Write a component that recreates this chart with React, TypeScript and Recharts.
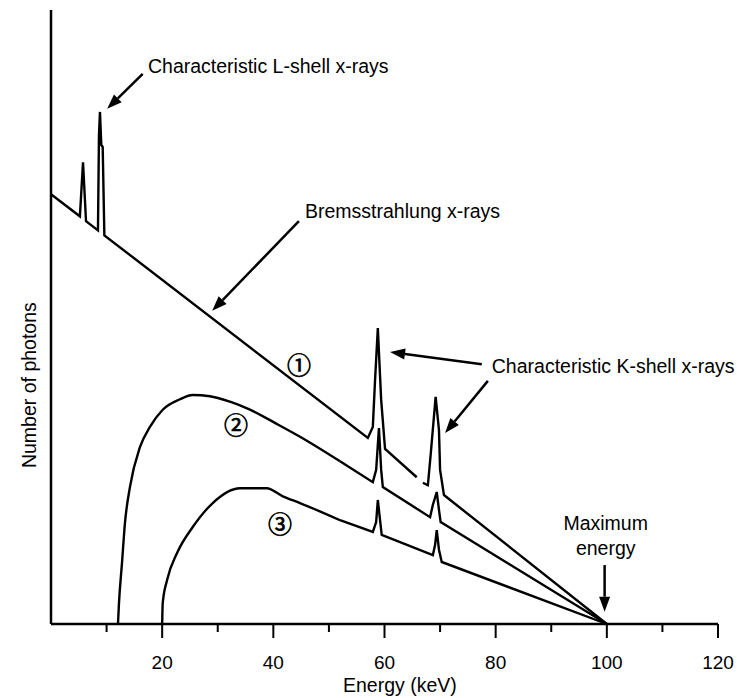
import React from 'react'
import { LineChart, Line, XAxis, YAxis, ReferenceLine, ReferenceDot } from 'recharts'

// energy in keV, photon count in relative units (0 - 100)
// curve 1: unfiltered spectrum, with L-shell and K-shell peaks
const curve1Energy = [0, 5.2, 5.76, 6.3, 8.45, 8.63, 8.81, 9.05, 9.3, 9.6, 57.0, 57.9, 58.3, 58.8, 59.4, 60.1, 65.8, 66.3, 66.9, 67.8, 68.3, 69.2, 69.8, 70.0, 70.7, 100]
const curve1Count = [70.0, 66.4, 75.2, 65.6, 64.1, 79.6, 83.4, 78.0, 77.7, 63.3, 30.3, 32.1, 39.7, 48.2, 36.5, 28.5, 23.9, null, 23.0, 22.6, 27.5, 37.0, 31.6, 25.1, 21.0, 0]

// curve 2: moderate filtration (smooth hump, then straight tail with K peaks)
const curve2HumpEnergy = [12.05, 12.23, 12.77, 13.3, 14.2, 16.0, 17.8, 20.1, 23.2, 25.5, 28.6, 32.2, 35.8, 40.6, 44.8, 52.0]
const curve2HumpCount = [0, 3.4, 9.9, 16.4, 22.3, 28.8, 32.1, 34.9, 36.6, 37.3, 37.1, 36.2, 34.9, 32.6, 30.5, 26.5]
const curve2TailEnergy = [52.0, 57.9, 58.5, 59.0, 59.4, 59.7, 68.2, 68.7, 69.4, 69.8, 70.1, 100]
const curve2TailCount = [26.5, 23.1, 25.1, 31.9, 25.1, 22.3, 17.4, 19.4, 21.5, 18.6, 16.6, 0]

// curve 3: heavy filtration
const curve3HumpEnergy = [20.0, 20.1, 20.9, 22.7, 25.5, 29.1, 34.0, 38.8, 41.7, 44.8, 52.0]
const curve3HumpCount = [0, 3.4, 7.2, 11.6, 15.8, 19.7, 22.1, 22.1, 20.8, 19.7, 16.9]
const curve3TailEnergy = [52.0, 57.9, 58.5, 58.8, 59.2, 59.5, 68.7, 69.1, 69.4, 69.8, 70.3, 100]
const curve3TailCount = [16.9, 15.0, 16.6, 20.2, 16.9, 14.5, 11.2, 12.9, 15.3, 12.1, 10.1, 0]

const energyTicks = [10, 20, 30, 40, 50, 60, 70, 80, 90, 100, 110, 120]

// annotations, in data coordinates
const arrows = [
  { from: [16.5, 89.6], to: [10.1, 83.9] },
  { from: [44.6, 65.6], to: [29.0, 51.0] },
  { from: [77.5, 42.3], to: [61.0, 44.3] },
  { from: [78.6, 39.6], to: [70.9, 31.1] },
  { from: [99.6, 9.6], to: [99.6, 2.0] },
]
const notes = [
  { x: 17.45, y: 89.7, text: 'Characteristic L-shell x-rays', anchor: 'start' },
  { x: 45.7, y: 66.1, text: 'Bremsstrahlung x-rays', anchor: 'start' },
  { x: 79.3, y: 40.9, text: 'Characteristic K-shell x-rays', anchor: 'start' },
  { x: 99.8, y: 15.3, text: 'Maximum', anchor: 'middle' },
  { x: 99.8, y: 11.2, text: 'energy', anchor: 'middle' },
]
const curveMarks = [
  { x: 44.6, y: 42.5, text: '①' },
  { x: 33.3, y: 32.7, text: '②' },
  { x: 41.2, y: 16.6, text: '③' },
]

const toRows = (es: number[], vs: (number | null)[]) => es.map((e, i) => ({ e, v: vs[i] }))
const series = [
  { d: toRows(curve1Energy, curve1Count), type: 'linear' },
  { d: toRows(curve2HumpEnergy, curve2HumpCount), type: 'monotone' },
  { d: toRows(curve2TailEnergy, curve2TailCount), type: 'linear' },
  { d: toRows(curve3HumpEnergy, curve3HumpCount), type: 'monotone' },
  { d: toRows(curve3TailEnergy, curve3TailCount), type: 'linear' },
]

const FONT = '"Liberation Sans", Arial, Helvetica, sans-serif'

function EnergyTick({ x, y, payload }: any) {
  const major = payload.value % 20 === 0
  return (
    <g>
      <line x1={x} y1={y} x2={x} y2={y + (major ? 14 : 8)} stroke="#000" strokeWidth={2} />
      {major && (
        <text x={x} y={y + 45} textAnchor="middle" fontSize={19} fontFamily={FONT} fill="#000">{payload.value}</text>
      )}
    </g>
  )
}

function Arrow(p: any) {
  const dx = p.x2 - p.x1, dy = p.y2 - p.y1
  const len = Math.hypot(dx, dy) || 1
  const ux = dx / len, uy = dy / len
  const hl = 15, hw = 5.5
  const bx = p.x2 - ux * hl, by = p.y2 - uy * hl
  return (
    <g>
      <line x1={p.x1} y1={p.y1} x2={bx} y2={by} stroke="#000" strokeWidth={2.5} />
      <polygon points={`${p.x2},${p.y2} ${bx - uy * hw},${by + ux * hw} ${bx + uy * hw},${by - ux * hw}`} fill="#000" />
    </g>
  )
}

export default function App() {
  return (
    <div style={{ position: 'absolute', left: 0, top: 0, background: '#fff' }}>
      <LineChart width={737} height={698} margin={{ top: 10, right: 19, left: 50, bottom: 0 }}>
        <XAxis
          type="number"
          dataKey="e"
          domain={[0, 120]}
          ticks={energyTicks}
          interval={0}
          height={74}
          tickSize={0}
          tickMargin={0}
          tickLine={false}
          axisLine={{ stroke: '#000', strokeWidth: 2.5 }}
          tick={<EnergyTick />}
          label={{
            position: 'insideBottom',
            content: (lp: any) => {
              const vb = lp.viewBox
              return (
                <text x={vb.x + vb.width * 0.523} y={vb.y + vb.height - 6} textAnchor="middle" fontSize={19.5} fontFamily={FONT} fill="#000">
                  Energy (keV)
                </text>
              )
            },
          }}
        />
        <YAxis
          type="number"
          domain={[0, 100]}
          width={1}
          tick={false}
          tickLine={false}
          axisLine={{ stroke: '#000', strokeWidth: 2.5 }}
          label={{
            position: 'left',
            content: (lp: any) => {
              const vb = lp.viewBox
              const cx = vb.x + vb.width - 15, cy = vb.y + vb.height * 0.611
              return (
                <text x={cx} y={cy} transform={`rotate(-90, ${cx}, ${cy})`} textAnchor="middle" fontSize={19.5} fontFamily={FONT} fill="#000">
                  Number of photons
                </text>
              )
            },
          }}
        />
        {series.map((s, i) => (
          <Line
            key={i}
            data={s.d}
            dataKey="v"
            type={s.type as any}
            stroke="#000"
            strokeWidth={2.4}
            dot={false}
            activeDot={false}
            connectNulls={false}
            isAnimationActive={false}
          />
        ))}
        {arrows.map((a, i) => (
          <ReferenceLine
            key={'a' + i}
            segment={[{ x: a.from[0], y: a.from[1] }, { x: a.to[0], y: a.to[1] }]}
            shape={Arrow}
          />
        ))}
        {notes.map((n, i) => (
          <ReferenceDot
            key={'n' + i}
            x={n.x}
            y={n.y}
            r={0}
            shape={(p: any) => (
              <text x={p.cx} y={p.cy} textAnchor={n.anchor as any} fontSize={19.5} fontFamily={FONT} fill="#000">{n.text}</text>
            )}
          />
        ))}
        {curveMarks.map((m, i) => (
          <ReferenceDot
            key={'m' + i}
            x={m.x}
            y={m.y}
            r={0}
            shape={(p: any) => (
              <text x={p.cx} y={p.cy} textAnchor="middle" dominantBaseline="central" fontSize={24} fontFamily='"Noto Sans CJK JP", "DejaVu Sans", sans-serif' fill="#000" stroke="#000" strokeWidth={0.7}>{m.text}</text>
            )}
          />
        ))}
      </LineChart>
    </div>
  )
}
